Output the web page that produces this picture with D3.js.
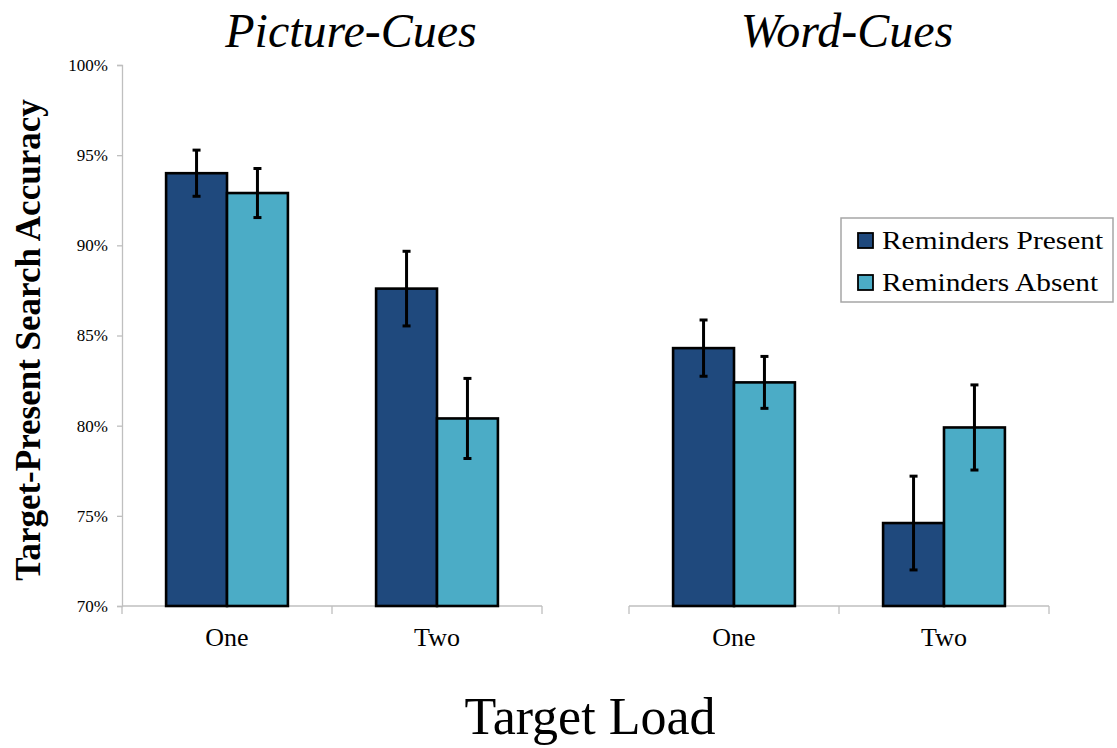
<!DOCTYPE html>
<html>
<head>
<meta charset="utf-8">
<script src="https://cdn.jsdelivr.net/npm/d3@7"></script>
<style>
  html, body { margin: 0; padding: 0; background: #ffffff; }
  svg { display: block; font-family: "Liberation Serif", "Times New Roman", serif; }
</style>
</head>
<body>
<svg id="chart" width="1117" height="748"></svg>
<script>
// Target-present search accuracy by target load, cue type and reminder condition
const panels = ["Picture-Cues", "Word-Cues"];
const categories = ["One", "Two"];
const series = ["Reminders Present", "Reminders Absent"];
const yTicks = [0.70, 0.75, 0.80, 0.85, 0.90, 0.95, 1.00];

// mean accuracy, indexed by target load (One, Two)
const pictureCuesPresent = [0.940, 0.876];
const pictureCuesAbsent  = [0.929, 0.804];
const wordCuesPresent    = [0.843, 0.746];
const wordCuesAbsent     = [0.824, 0.799];

// error bar half-widths, same order
const pictureCuesPresentErr = [0.0128, 0.0207];
const pictureCuesAbsentErr  = [0.0136, 0.0222];
const wordCuesPresentErr    = [0.0156, 0.0260];
const wordCuesAbsentErr     = [0.0144, 0.0236];

const panelData = [
  { name: panels[0], means: [pictureCuesPresent, pictureCuesAbsent], errs: [pictureCuesPresentErr, pictureCuesAbsentErr], showY: true },
  { name: panels[1], means: [wordCuesPresent, wordCuesAbsent], errs: [wordCuesPresentErr, wordCuesAbsentErr], showY: false }
];

const colors = d3.scaleOrdinal().domain(series).range(["#1f497d", "#4bacc6"]);
const axisGray = "#bfbfbf";
const serif = "'Liberation Serif', 'Times New Roman', serif";

const svg = d3.select("#chart");

const plotTop = 65, plotBottom = 606, panelWidth = 420;
const panelLeft = [122, 629];

const y = d3.scaleLinear().domain([0.70, 1.00]).range([plotBottom, plotTop]);

panelData.forEach((p, pi) => {
  const g = svg.append("g").attr("transform", `translate(${panelLeft[pi]},0)`);

  const x0 = d3.scaleBand().domain(categories).range([0, panelWidth]).padding(0);
  const bw = x0.bandwidth();
  const x1 = d3.scaleBand().domain(series).range([bw * 0.21, bw * 0.79]).padding(0);

  // y axis (left panel only)
  if (p.showY) {
    const yAxis = g.append("g")
      .attr("font-family", serif)
      .call(d3.axisLeft(y).tickValues(yTicks).tickSize(5).tickPadding(9).tickFormat(d3.format(".0%")));
    yAxis.attr("font-family", serif);
    yAxis.select(".domain").attr("stroke", axisGray).attr("stroke-width", 1.3);
    yAxis.selectAll(".tick line").attr("stroke", axisGray).attr("stroke-width", 1.3);
    yAxis.selectAll(".tick text")
      .attr("fill", "#000")
      .style("font-family", serif)
      .style("font-size", "17px");
  }

  // x axis with boundary ticks between categories
  g.append("line")
    .attr("x1", 0).attr("x2", panelWidth)
    .attr("y1", plotBottom).attr("y2", plotBottom)
    .attr("stroke", axisGray).attr("stroke-width", 1.3);
  const boundaries = [0].concat(categories.map(c => x0(c) + bw));
  g.selectAll("line.xtick").data(boundaries).enter().append("line")
    .attr("class", "xtick")
    .attr("x1", d => d).attr("x2", d => d)
    .attr("y1", plotBottom).attr("y2", plotBottom + 8)
    .attr("stroke", axisGray).attr("stroke-width", 1.3);
  g.selectAll("text.xlab").data(categories).enter().append("text")
    .attr("class", "xlab")
    .attr("x", d => x0(d) + bw / 2)
    .attr("y", 646)
    .attr("text-anchor", "middle")
    .style("font-size", "26px")
    .text(d => d);

  // bars
  const rows = [];
  categories.forEach((c, ci) => {
    series.forEach((s, si) => {
      rows.push({ cat: c, ser: s, v: p.means[si][ci], e: p.errs[si][ci] });
    });
  });

  const grp = g.selectAll("g.bar").data(rows).enter().append("g").attr("class", "bar");
  grp.append("rect")
    .attr("x", d => x0(d.cat) + x1(d.ser))
    .attr("width", x1.bandwidth())
    .attr("y", d => y(d.v))
    .attr("height", d => y(0.70) - y(d.v))
    .attr("fill", d => colors(d.ser))
    .attr("stroke", "#000")
    .attr("stroke-width", 2.6);

  // error bars
  const cx = d => x0(d.cat) + x1(d.ser) + x1.bandwidth() / 2;
  grp.append("line")
    .attr("x1", cx).attr("x2", cx)
    .attr("y1", d => y(d.v + d.e)).attr("y2", d => y(d.v - d.e))
    .attr("stroke", "#000").attr("stroke-width", 3);
  grp.append("line")
    .attr("x1", d => cx(d) - 4).attr("x2", d => cx(d) + 4)
    .attr("y1", d => y(d.v + d.e)).attr("y2", d => y(d.v + d.e))
    .attr("stroke", "#000").attr("stroke-width", 3);
  grp.append("line")
    .attr("x1", d => cx(d) - 4).attr("x2", d => cx(d) + 4)
    .attr("y1", d => y(d.v - d.e)).attr("y2", d => y(d.v - d.e))
    .attr("stroke", "#000").attr("stroke-width", 3);

  // panel title
  svg.append("text")
    .attr("x", pi === 0 ? 351 : 847)
    .attr("y", 47)
    .attr("text-anchor", "middle")
    .style("font-size", "48px")
    .style("font-style", "italic")
    .text(p.name);
});

// y axis title
svg.append("text")
  .attr("transform", "translate(40,340) rotate(-90)")
  .attr("text-anchor", "middle")
  .style("font-size", "35px")
  .style("font-weight", "bold")
  .text("Target-Present Search Accuracy");

// x axis title
svg.append("text")
  .attr("x", 590)
  .attr("y", 734)
  .attr("text-anchor", "middle")
  .style("font-size", "52px")
  .text("Target Load");

// legend
const legend = svg.append("g").attr("transform", "translate(841,218)");
legend.append("rect")
  .attr("width", 272).attr("height", 84)
  .attr("fill", "#fff")
  .attr("stroke", "#a6a6a6").attr("stroke-width", 1.5);
const li = legend.selectAll("g.item").data(series).enter().append("g")
  .attr("class", "item")
  .attr("transform", (d, i) => `translate(0,${22 + i * 42})`);
li.append("rect")
  .attr("x", 17).attr("y", -7).attr("width", 15).attr("height", 15)
  .attr("fill", d => colors(d))
  .attr("stroke", "#000").attr("stroke-width", 1.8);
li.append("text")
  .attr("transform", "translate(41,9) scale(1.13,1)")
  .style("font-size", "26px")
  .text(d => d);
</script>
</body>
</html>
